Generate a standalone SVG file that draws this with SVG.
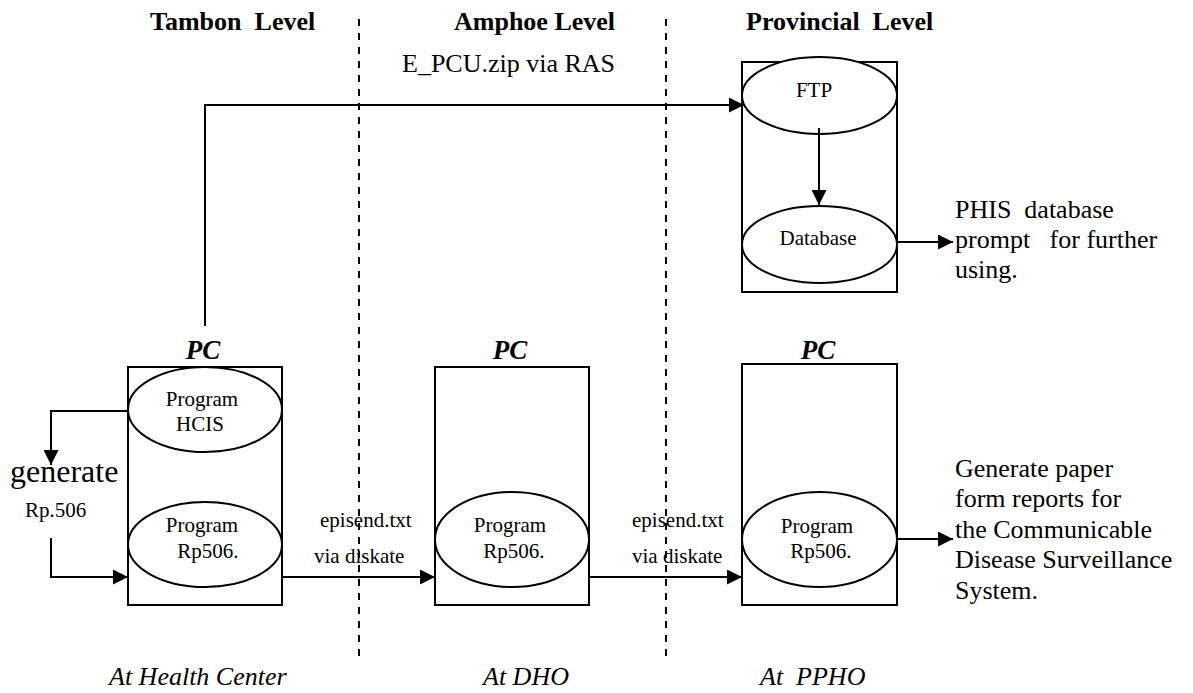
<svg xmlns="http://www.w3.org/2000/svg" width="1193" height="693" viewBox="0 0 1193 693">
  <defs>
    <marker id="arrow" viewBox="0 0 15 15" refX="15" refY="7.5" markerWidth="15" markerHeight="15" markerUnits="userSpaceOnUse" orient="auto">
      <path d="M0,0 L15,7.5 L0,15 Z" fill="#000"/>
    </marker>
  </defs>

  <rect width="1193" height="693" fill="#fff"/>

  <!-- level dividers -->
  <g id="dividers" fill="none" stroke="#000" stroke-width="2" stroke-dasharray="7 7">
    <line x1="359" y1="19" x2="359" y2="656"/>
    <line x1="666" y1="19" x2="666" y2="656"/>
  </g>

  <!-- column headings -->
  <g id="headings">
    <text x="150" y="30" style="font-family:'Liberation Serif';font-size:26px;font-weight:bold;white-space:pre">Tambon  Level</text>
    <text x="454" y="30" style="font-family:'Liberation Serif';font-size:26px;font-weight:bold">Amphoe Level</text>
    <text x="746" y="30" style="font-family:'Liberation Serif';font-size:26px;font-weight:bold;white-space:pre">Provincial  Level</text>
    <text x="402" y="72" style="font-family:'Liberation Serif';font-size:26px">E_PCU.zip via RAS</text>
  </g>

  <!-- provincial server -->
  <g id="server">
    <rect x="742" y="62" width="155" height="230" fill="none" stroke="#000" stroke-width="2"/>
    <g id="ftp">
      <ellipse cx="819.5" cy="95.5" rx="77.5" ry="38.5" fill="#fff" stroke="#000" stroke-width="2"/>
      <text x="814" y="97" text-anchor="middle" style="font-family:'Liberation Serif';font-size:21px">FTP</text>
    </g>
    <g id="database">
      <ellipse cx="819.5" cy="244.5" rx="77.5" ry="38.5" fill="#fff" stroke="#000" stroke-width="2"/>
      <text x="818" y="245" text-anchor="middle" style="font-family:'Liberation Serif';font-size:21px">Database</text>
    </g>
  </g>

  <!-- health center PC -->
  <g id="pc-health-center">
    <text x="203" y="359" text-anchor="middle" style="font-family:'Liberation Serif';font-size:27px;font-weight:bold;font-style:italic">PC</text>
    <rect x="128" y="367" width="154" height="238" fill="none" stroke="#000" stroke-width="2"/>
    <g id="hcis">
      <ellipse cx="205" cy="409.5" rx="77" ry="42.5" fill="#fff" stroke="#000" stroke-width="2"/>
      <text x="202" y="406" text-anchor="middle" style="font-family:'Liberation Serif';font-size:21px">Program</text>
      <text x="200" y="431" text-anchor="middle" style="font-family:'Liberation Serif';font-size:21px">HCIS</text>
    </g>
    <g id="rp506-hc">
      <ellipse cx="205" cy="544.5" rx="77" ry="42.5" fill="#fff" stroke="#000" stroke-width="2"/>
      <text x="202" y="532" text-anchor="middle" style="font-family:'Liberation Serif';font-size:21px">Program</text>
      <text x="208" y="558" text-anchor="middle" style="font-family:'Liberation Serif';font-size:21px">Rp506.</text>
    </g>
  </g>

  <!-- district PC -->
  <g id="pc-dho">
    <text x="510" y="359" text-anchor="middle" style="font-family:'Liberation Serif';font-size:27px;font-weight:bold;font-style:italic">PC</text>
    <rect x="435" y="367" width="154" height="238" fill="none" stroke="#000" stroke-width="2"/>
    <g id="rp506-dho">
      <ellipse cx="512" cy="539.5" rx="77" ry="47.5" fill="#fff" stroke="#000" stroke-width="2"/>
      <text x="510" y="532" text-anchor="middle" style="font-family:'Liberation Serif';font-size:21px">Program</text>
      <text x="514" y="558" text-anchor="middle" style="font-family:'Liberation Serif';font-size:21px">Rp506.</text>
    </g>
  </g>

  <!-- provincial PC -->
  <g id="pc-ppho">
    <text x="818" y="359" text-anchor="middle" style="font-family:'Liberation Serif';font-size:27px;font-weight:bold;font-style:italic">PC</text>
    <rect x="742" y="364" width="155" height="241" fill="none" stroke="#000" stroke-width="2"/>
    <g id="rp506-ppho">
      <ellipse cx="819.5" cy="539.5" rx="77.5" ry="47.5" fill="#fff" stroke="#000" stroke-width="2"/>
      <text x="817" y="533" text-anchor="middle" style="font-family:'Liberation Serif';font-size:21px">Program</text>
      <text x="821" y="558" text-anchor="middle" style="font-family:'Liberation Serif';font-size:21px">Rp506.</text>
    </g>
  </g>

  <!-- connectors -->
  <g id="connectors" fill="none" stroke="#000" stroke-width="2" marker-end="url(#arrow)">
    <path d="M205,326 V105 H744"/>
    <path d="M819,128 V205"/>
    <path d="M897,242 H953"/>
    <path d="M128,411 H51 V465"/>
    <path d="M51,538 V577 H128"/>
    <path d="M282,577 H435"/>
    <path d="M589,577 H742"/>
    <path d="M897,539 H953"/>
  </g>

  <!-- connector labels -->
  <g id="labels">
    <text x="10" y="482" style="font-family:'Liberation Serif';font-size:32px">generate</text>
    <text x="25" y="517" style="font-family:'Liberation Serif';font-size:21px">Rp.506</text>
    <text x="320" y="527" style="font-family:'Liberation Serif';font-size:21px">episend.txt</text>
    <text x="314" y="563" style="font-family:'Liberation Serif';font-size:21px">via diskate</text>
    <text x="632" y="527" style="font-family:'Liberation Serif';font-size:21px">episend.txt</text>
    <text x="632" y="563" style="font-family:'Liberation Serif';font-size:21px">via diskate</text>
    <text x="955" y="218" style="font-family:'Liberation Serif';font-size:26px;white-space:pre">PHIS  database</text>
    <text x="955" y="248" style="font-family:'Liberation Serif';font-size:26px;white-space:pre">prompt   for further</text>
    <text x="955" y="278" style="font-family:'Liberation Serif';font-size:26px">using.</text>
    <text x="955" y="477" style="font-family:'Liberation Serif';font-size:26px">Generate paper</text>
    <text x="955" y="507" style="font-family:'Liberation Serif';font-size:26px">form reports for</text>
    <text x="955" y="538" style="font-family:'Liberation Serif';font-size:26px">the Communicable</text>
    <text x="955" y="568" style="font-family:'Liberation Serif';font-size:26px">Disease Surveillance</text>
    <text x="955" y="599" style="font-family:'Liberation Serif';font-size:26px">System.</text>
  </g>

  <!-- site names -->
  <g id="sites">
    <text x="109" y="685" style="font-family:'Liberation Serif';font-size:26px;font-style:italic">At Health Center</text>
    <text x="483" y="685" style="font-family:'Liberation Serif';font-size:26px;font-style:italic">At DHO</text>
    <text x="760" y="685" style="font-family:'Liberation Serif';font-size:26px;font-style:italic;white-space:pre">At  PPHO</text>
  </g>
</svg>
